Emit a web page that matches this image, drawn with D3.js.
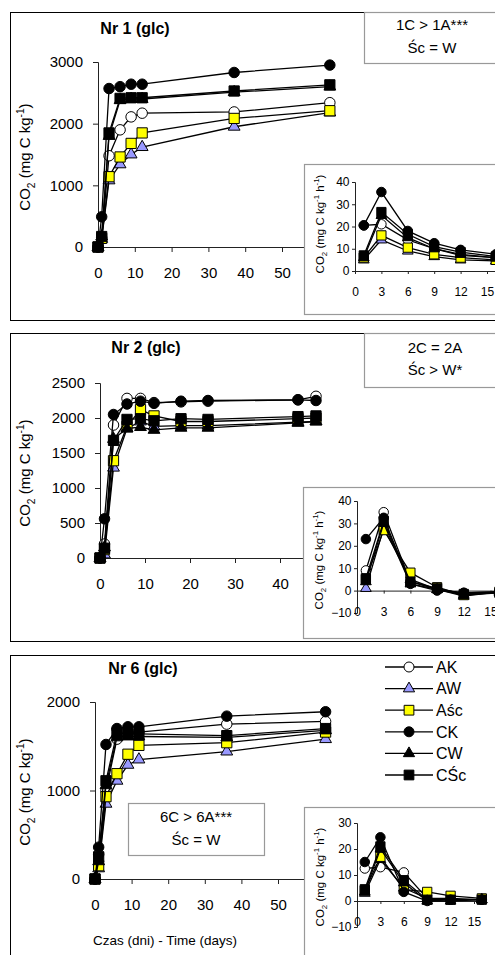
<!DOCTYPE html>
<html><head><meta charset="utf-8">
<script src="https://cdn.jsdelivr.net/npm/d3@7"></script>
<style>
body{margin:0;background:#fff}
svg{display:block}
text{font-family:"Liberation Sans",Arial,sans-serif;fill:#000}
</style>
</head><body>
<svg id="fig" width="495" height="955"></svg>
<script>
// Treatments (A = ash soil, C = control; K, W, Śc = variants)
const series = ["AK", "AW", "Aśc", "CK", "CW", "CŚc"];

// Nr 1 (glc): cumulative CO2, mg C kg-1
const days1 = [0, 1, 3, 6, 9, 12, 37, 63];
const nr1AK  = [0, 150, 1480, 1900, 2110, 2170, 2190, 2340];
const nr1AW  = [0, 130, 1080, 1340, 1500, 1620, 1950, 2180];
const nr1Asc = [0, 140, 1140, 1460, 1680, 1850, 2085, 2210];
const nr1CK  = [0, 490, 2570, 2600, 2640, 2640, 2830, 2950];
const nr1CW  = [0, 170, 1800, 2380, 2400, 2400, 2510, 2600];
const nr1CSc = [0, 170, 1850, 2410, 2420, 2420, 2530, 2630];

// Nr 2 (glc)
const days2 = [0, 1, 3, 6, 9, 12, 18, 24, 44, 48];
const nr2AK  = [0, 200, 1900, 2280, 2280, 2220, 2230, 2240, 2260, 2310];
const nr2AW  = [0, 50, 1290, 1850, 1950, 1880, 1890, 1890, 1940, 1950];
const nr2Asc = [0, 120, 1390, 1880, 2120, 2030, 1950, 1950, 1990, 2000];
const nr2CK  = [0, 560, 2050, 2200, 2240, 2210, 2240, 2250, 2260, 2250];
const nr2CW  = [0, 150, 1700, 1850, 1870, 1830, 1860, 1860, 1930, 1950];
const nr2CSc = [0, 140, 1680, 1980, 1990, 1960, 1990, 1980, 2020, 2030];

// Nr 6 (glc)
const days6 = [0, 1, 3, 6, 9, 12, 36, 63];
const nr6AK  = [0, 280, 1000, 1580, 1650, 1660, 1750, 1780];
const nr6AW  = [0, 120, 850, 1110, 1290, 1350, 1440, 1580];
const nr6Asc = [0, 150, 930, 1190, 1410, 1510, 1540, 1660];
const nr6CK  = [0, 360, 1520, 1700, 1720, 1720, 1840, 1890];
const nr6CW  = [0, 200, 1060, 1600, 1610, 1610, 1600, 1680];
const nr6CSc = [0, 250, 1110, 1650, 1640, 1640, 1620, 1700];

// Respiration rate, mg C kg-1 h-1 (insets)
const rateDays = [1, 3, 6, 9, 12, 16];
const r1AK  = [20.5, 21, 14, 10, 7, 6];
const r1AW  = [5, 14, 9, 6.5, 5, 4.5];
const r1Asc = [6, 16, 10.5, 7.5, 6, 5];
const r1CK  = [20.5, 35.5, 18, 12.5, 9.5, 7.5];
const r1CW  = [6, 25, 15, 10, 7.5, 6];
const r1CSc = [7, 26.5, 16.5, 11, 8.5, 6.5];

const r2AK  = [9, 35, 4, 0.5, -1, -0.5];
const r2AW  = [1, 28, 5, 0.5, -2.5, -0.5];
const r2Asc = [5, 27, 8, 1.5, -2, -0.5];
const r2CK  = [23, 32.5, 3, 0, -1, -0.5];
const r2CW  = [4, 30, 3, 0.5, -2, -1];
const r2CSc = [5.5, 31, 4, 1, -1.5, -1];

const r6AK  = [12.5, 13, 11, 1, 0.5, 0.5];
const r6AW  = [3, 16, 5, 1, 1, 0.5];
const r6Asc = [4, 17, 4.5, 3.5, 2, 1];
const r6CK  = [15, 24.5, 3.5, 0, 0.5, 0.5];
const r6CW  = [3.5, 20, 7, 0, 0, 0.5];
const r6CSc = [4.5, 21, 8, 0.5, 0.5, 0.5];

// Tick values
const mainXTicks = [0, 10, 20, 30, 40, 50, 60, 70];
const yTicks1 = [0, 1000, 2000, 3000];
const yTicks2 = [0, 500, 1000, 1500, 2000, 2500];
const yTicks6 = [0, 1000, 2000];
const rateXTicks = [0, 3, 6, 9, 12, 15];
const rateYTicks1 = [0, 10, 20, 30, 40];
const rateYTicks2 = [-10, 0, 10, 20, 30, 40];
const rateYTicks6 = [-10, 0, 10, 20, 30];

// Significance notes
const note1 = ["1C > 1A***", "Śc = W"];
const note2 = ["2C = 2A", "Śc > W*"];
const note6 = ["6C > 6A***", "Śc = W"];

// Marker look per treatment
const markerStyle = {
  "AK":  {shape: d3.symbolCircle,   fill: "#ffffff"},
  "AW":  {shape: d3.symbolTriangle, fill: "#9999ff"},
  "Aśc": {shape: d3.symbolSquare,   fill: "#ffff00"},
  "CK":  {shape: d3.symbolCircle,   fill: "#000000"},
  "CW":  {shape: d3.symbolTriangle, fill: "#000000"},
  "CŚc": {shape: d3.symbolSquare,   fill: "#000000"}
};
function symPath(name, size) {
  const st = markerStyle[name];
  // equalise visual size between shapes
  let area;
  if (st.shape === d3.symbolCircle) area = Math.PI * (size / 2) ** 2;
  else if (st.shape === d3.symbolSquare) area = size * size * 0.95;
  else area = size * size * 0.55;
  return d3.symbol(st.shape, area)();
}

const svg = d3.select("#fig");
const FONT = '"Liberation Sans",Arial,sans-serif';

function frame(y) {
  svg.append("rect").attr("x", 10.5).attr("y", y + 0.5)
    .attr("width", 520).attr("height", 308)
    .attr("fill", "#fff").attr("stroke", "#000").attr("stroke-width", 1);
}

function noteBox(x, y, w, h, lines, cx, base1, base2) {
  svg.append("rect").attr("x", x + 0.5).attr("y", y + 0.5).attr("width", w).attr("height", h)
    .attr("fill", "#fff").attr("stroke", "#999").attr("stroke-width", 1.2);
  [base1, base2].forEach((b, i) => {
    svg.append("text").attr("x", cx).attr("y", b).attr("text-anchor", "middle")
      .attr("font-size", 15).text(lines[i]);
  });
}

// rotated CO2 label with sub/superscripts
function yTitle(x, y, size, perHour) {
  const t = svg.append("text").attr("transform", `translate(${x},${y}) rotate(-90)`)
    .attr("text-anchor", "middle").attr("font-size", size);
  const s = size * 0.68, dn = size * 0.3, up = size * 0.42;
  t.append("tspan").text("CO");
  t.append("tspan").attr("font-size", s).attr("dy", dn).text("2");
  t.append("tspan").attr("dy", -dn).text(" (mg C kg");
  t.append("tspan").attr("font-size", s).attr("dy", -up).text("-1");
  if (perHour) {
    t.append("tspan").attr("dy", up).text(" h");
    t.append("tspan").attr("font-size", s).attr("dy", -up).text("-1");
  }
  t.append("tspan").attr("dy", up).text(")");
}

function styleAxis(g, fontSize) {
  g.select(".domain").attr("stroke", "#222").attr("stroke-width", 1);
  g.selectAll(".tick line").attr("stroke", "#222");
  g.selectAll(".tick text").attr("font-size", fontSize).attr("font-family", FONT).attr("fill", "#000");
}

function drawSeries(x, y, days, values, size, lw) {
  const line = d3.line().x((d, i) => x(days[i])).y(d => y(d));
  series.forEach((name, k) => {
    const vals = values[k];
    svg.append("path").attr("d", line(vals)).attr("fill", "none")
      .attr("stroke", "#000").attr("stroke-width", lw);
    svg.append("g").selectAll("path").data(vals).join("path")
      .attr("d", symPath(name, size))
      .attr("transform", (d, i) => `translate(${x(days[i])},${y(d)})`)
      .attr("fill", markerStyle[name].fill)
      .attr("stroke", "#000").attr("stroke-width", 1);
  });
}

function mainPlot(cfg) {
  const x = d3.scaleLinear().domain([0, 70]).range([cfg.x0, cfg.x0 + cfg.perDay * 70]);
  const y = d3.scaleLinear().domain(cfg.yDomain).range(cfg.yRange);
  const gx = svg.append("g").attr("transform", `translate(0,${y(0)})`)
    .call(d3.axisBottom(x).tickValues(mainXTicks).tickSize(5).tickPadding(15.5).tickFormat(d3.format("d")));
  styleAxis(gx, 15);
  const gy = svg.append("g").attr("transform", `translate(${cfg.x0},0)`)
    .call(d3.axisLeft(y).tickValues(cfg.yTicks).tickSize(5).tickPadding(10).tickFormat(d3.format("d")));
  styleAxis(gy, 15);
  drawSeries(x, y, cfg.days, cfg.values, 10.5, 1.3);
  svg.append("text").attr("x", cfg.titleX).attr("y", cfg.titleY).attr("text-anchor", "middle")
    .attr("font-size", 16).attr("font-weight", "bold").text(cfg.title);
  yTitle(30, cfg.yTitleY, 15, false);
}

function inset(cfg) {
  svg.append("rect").attr("x", cfg.bx + 0.5).attr("y", cfg.by + 0.5)
    .attr("width", 300).attr("height", cfg.bh)
    .attr("fill", "#fff").attr("stroke", "#999").attr("stroke-width", 1.2);
  const x = d3.scaleLinear().domain([0, 16]).range([cfg.x0, cfg.x0 + cfg.perDay * 16]);
  const y = d3.scaleLinear().domain(cfg.yDomain).range(cfg.yRange);
  const gy = svg.append("g").attr("transform", `translate(${cfg.x0},0)`)
    .call(d3.axisLeft(y).tickValues(cfg.yTicks).tickSize(3).tickPadding(2.5).tickFormat(d3.format("d")));
  styleAxis(gy, 12);
  const gx = svg.append("g").attr("transform", `translate(0,${y(0)})`)
    .call(d3.axisBottom(x).tickValues(rateXTicks).tickSize(3).tickPadding(13.5).tickFormat(d3.format("d")));
  styleAxis(gx, 12);
  drawSeries(x, y, rateDays, cfg.values, 9.5, 1.3);
  yTitle(cfg.bx + 20, cfg.yTitleY, 11.5, true);
}

// ---- Panel Nr 1
frame(12);
noteBox(364, 12, 160, 51, note1, 432, 30, 53);
mainPlot({
  title: "Nr 1 (glc)", titleX: 135, titleY: 33.5,
  x0: 98, perDay: 3.68, yDomain: [0, 3000], yRange: [247, 62], yTicks: yTicks1,
  days: days1, values: [nr1AK, nr1AW, nr1Asc, nr1CK, nr1CW, nr1CSc], yTitleY: 157
});
inset({
  bx: 304, by: 164, bh: 150, x0: 355, perDay: 8.8,
  yDomain: [0, 40], yRange: [271, 182], yTicks: rateYTicks1,
  values: [r1AK, r1AW, r1Asc, r1CK, r1CW, r1CSc], yTitleY: 224
});

// ---- Panel Nr 2
frame(333);
noteBox(364, 333, 160, 54, note2, 435, 353, 375);
mainPlot({
  title: "Nr 2 (glc)", titleX: 146, titleY: 352.5,
  x0: 100, perDay: 4.5, yDomain: [0, 2500], yRange: [558, 383], yTicks: yTicks2,
  days: days2, values: [nr2AK, nr2AW, nr2Asc, nr2CK, nr2CW, nr2CSc], yTitleY: 473
});
inset({
  bx: 303, by: 487, bh: 151, x0: 357, perDay: 8.9,
  yDomain: [-10, 40], yRange: [613, 501], yTicks: rateYTicks2,
  values: [r2AK, r2AW, r2Asc, r2CK, r2CW, r2CSc], yTitleY: 560
});

// ---- Panel Nr 6
frame(655);
mainPlot({
  title: "Nr 6 (glc)", titleX: 143, titleY: 673.5,
  x0: 95, perDay: 3.66, yDomain: [0, 2000], yRange: [879, 702], yTicks: yTicks6,
  days: days6, values: [nr6AK, nr6AW, nr6Asc, nr6CK, nr6CW, nr6CSc], yTitleY: 792
});
noteBox(128, 803, 136, 52, note6, 196, 822, 845);
inset({
  bx: 304, by: 807, bh: 200, x0: 357, perDay: 7.8,
  yDomain: [-10, 30], yRange: [927, 823], yTicks: rateYTicks6,
  values: [r6AK, r6AW, r6Asc, r6CK, r6CW, r6CSc], yTitleY: 877
});
svg.append("text").attr("x", 165).attr("y", 945).attr("text-anchor", "middle")
  .attr("font-size", 13.5).text("Czas (dni) - Time (days)");

// ---- Legend
const legend = svg.append("g");
series.forEach((name, i) => {
  const yy = 667 + i * 21.6;
  legend.append("line").attr("x1", 385).attr("x2", 433).attr("y1", yy).attr("y2", yy)
    .attr("stroke", "#000").attr("stroke-width", 1.3);
  legend.append("path").attr("d", symPath(name, 10)).attr("transform", `translate(409,${yy})`)
    .attr("fill", markerStyle[name].fill).attr("stroke", "#000");
  legend.append("text").attr("x", 436).attr("y", yy).attr("dy", "0.36em")
    .attr("font-size", 16).text(name);
});
</script>
</body></html>
